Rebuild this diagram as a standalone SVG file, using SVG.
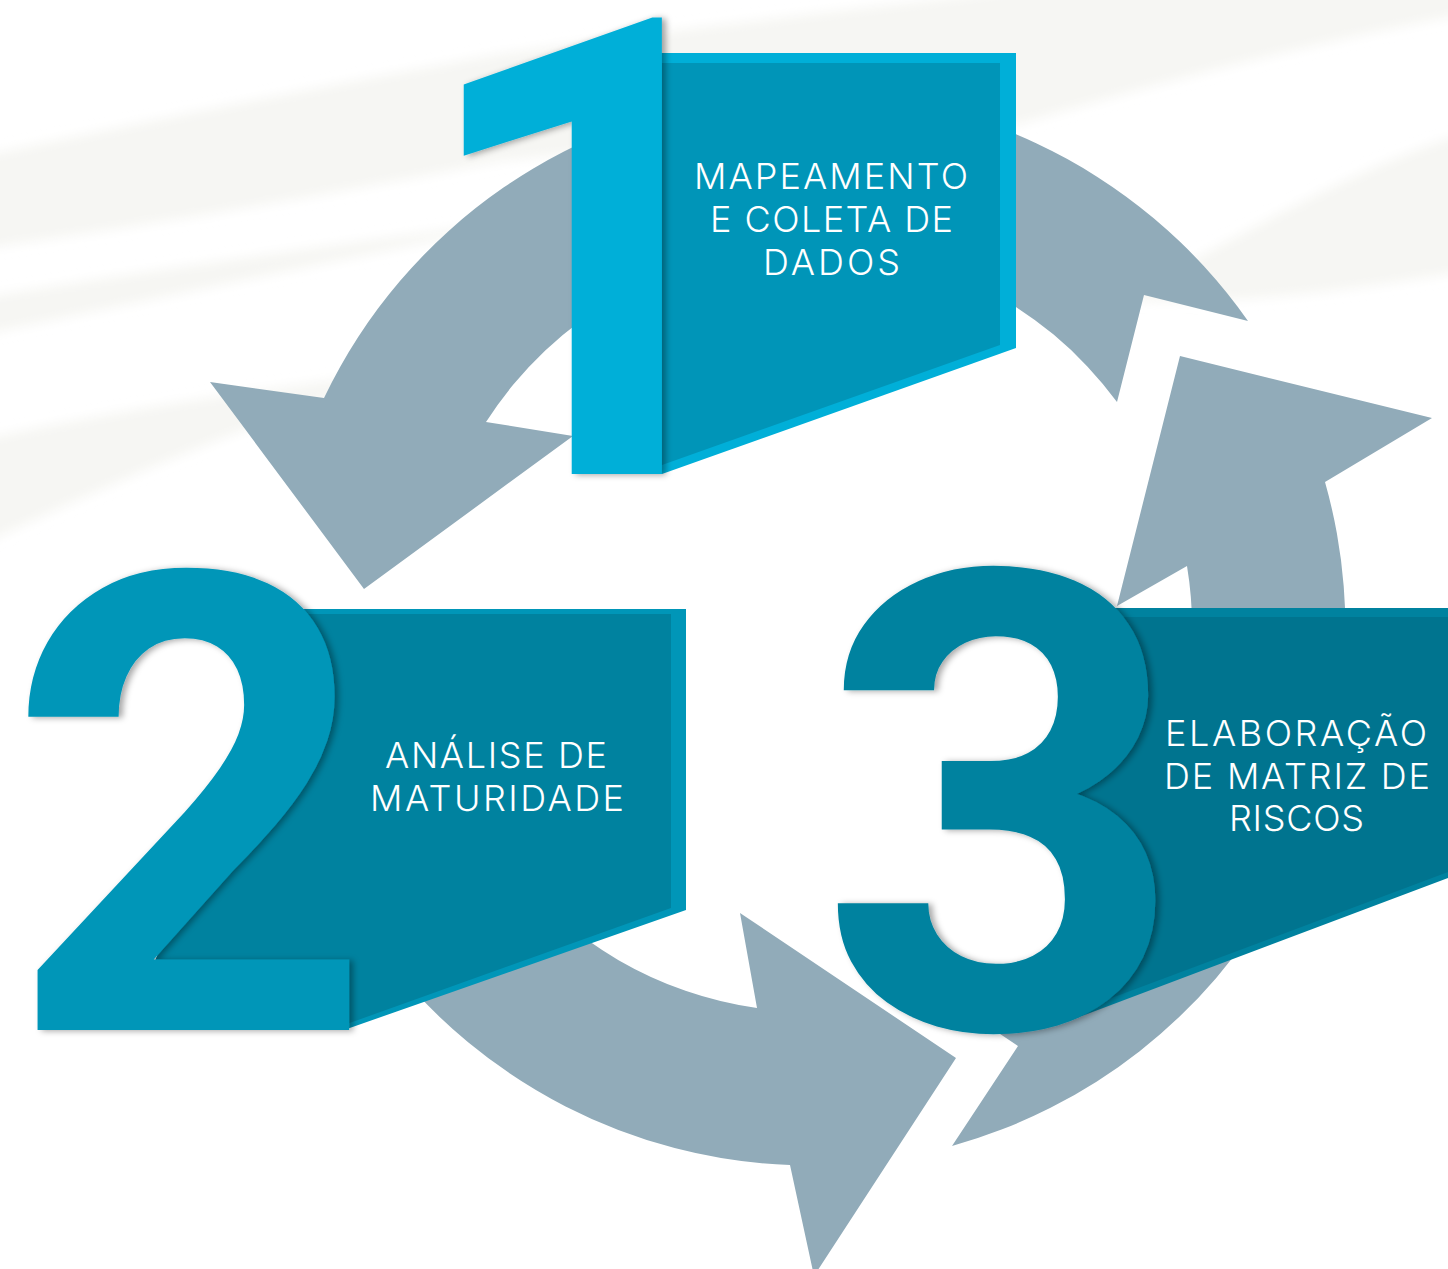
<svg xmlns="http://www.w3.org/2000/svg" width="1448" height="1269" viewBox="0 0 1448 1269">
<style>
.ring{fill:#91ABB9}
.lbl{font-family:Inter,"Open Sans","Liberation Sans",sans-serif;font-weight:300;font-size:36px;fill:#ffffff;text-anchor:middle}
.num{font-family:Roboto,"Liberation Sans",sans-serif;font-weight:700;font-size:641px;text-anchor:middle}
.band{fill:#F6F6F3}
</style>
<defs>
<filter id="sh" x="-20%" y="-10%" width="140%" height="120%">
<feDropShadow dx="4" dy="1" stdDeviation="3" flood-color="#000" flood-opacity="0.35"/>
</filter>
<filter id="soft" filterUnits="userSpaceOnUse" x="-60" y="-60" width="1570" height="700">
<feGaussianBlur stdDeviation="6"/>
</filter>
</defs>
<g id="background">
<rect width="1448" height="1269" fill="#ffffff"/>
<g filter="url(#soft)">
<path class="band" d="M-20,157 C150,120 330,85 500,54 C700,25 900,5 1016,-10 L1460,-10 L1460,15 C1300,45 1150,85 1016,125 C800,135 650,145 500,161 C330,195 150,225 -20,249 Z"/>
<path class="band" d="M-20,298 C150,270 330,245 560,215 C330,262 150,300 -20,335 Z"/>
<path class="band" d="M-20,440 C120,410 250,390 420,370 C250,420 120,480 -20,545 Z"/>
<path class="band" d="M1120,300 C1250,230 1350,170 1460,135 L1460,272 C1350,290 1250,305 1120,300 Z"/>
</g>
</g>
<g id="connectors">
<path id="arrow-1-2" class="ring" d="M1248,321 A537,537 0 0 0 324,398 L210,382 L364,589 L573,436 L486,422 A383,383 0 0 1 1117,402 L1144,295 Z"/>
<path id="arrow-2-3" class="ring" d="M386.8,958.6 A537,537 0 0 0 790,1165 L814,1276 L956,1058 L740,913 L757,1008 A383,383 0 0 1 508.2,863.8 Z"/>
<path id="arrow-3-1" class="ring" d="M952,1146 A537,537 0 0 0 1325,482 L1432,418 L1180,356 L1117,606 L1187,566 A383,383 0 0 1 934.8,990.2 L1018,1046 Z"/>
</g>
<g id="step1">
<polygon points="655,53 1016,53 1016,348 662,474 655,474" fill="#00AFD8"/>
<polygon points="662,63 1000,63 1000,345 662,465" fill="#0095B8"/>
<text class="num" x="411" y="474" fill="#00AFD8" filter="url(#sh)" style="text-anchor:start;letter-spacing:-100px">1</text>
<text class="lbl" x="831" y="189" textLength="274" lengthAdjust="spacing">MAPEAMENTO</text>
<text class="lbl" x="831.5" y="232" textLength="243" lengthAdjust="spacing">E COLETA DE</text>
<text class="lbl" x="831.5" y="275" textLength="137" lengthAdjust="spacing">DADOS</text>
</g>
<g id="step2">
<polygon points="295,609 686,609 686,910 344,1030 200,1000 150,975 178,900 268,800 300,720" fill="#0096B8"/>
<polygon points="295,614 671,614 671,908 344,1025 200,1000 150,975 178,900 268,800 300,720" fill="#00829F"/>
<text class="num" x="190" y="1030" fill="#0096B8" filter="url(#sh)">2</text>
<text class="lbl" x="496" y="768" textLength="222" lengthAdjust="spacing">ANÁLISE DE</text>
<text class="lbl" x="497" y="811" textLength="254" lengthAdjust="spacing">MATURIDADE</text>
</g>
<g id="step3">
<polygon points="1095,608 1448,608 1448,878 1066,1022 1100,960 1100,840 1060,815 1060,785 1095,755" fill="#00829F"/>
<polygon points="1095,617 1448,617 1448,872 1066,1015 1100,960 1100,840 1060,815 1060,785 1095,755" fill="#00748F"/>
<ellipse cx="1000" cy="896" rx="88" ry="80" fill="#ffffff"/>
<text class="num" x="1002" y="1028" fill="#00829F" filter="url(#sh)">3</text>
<text class="lbl" x="1296" y="746" textLength="262" lengthAdjust="spacing">ELABORAÇÃO</text>
<text class="lbl" x="1297" y="789" textLength="266" lengthAdjust="spacing">DE MATRIZ DE</text>
<text class="lbl" x="1296.5" y="831" textLength="135" lengthAdjust="spacing">RISCOS</text>
</g>
</svg>
